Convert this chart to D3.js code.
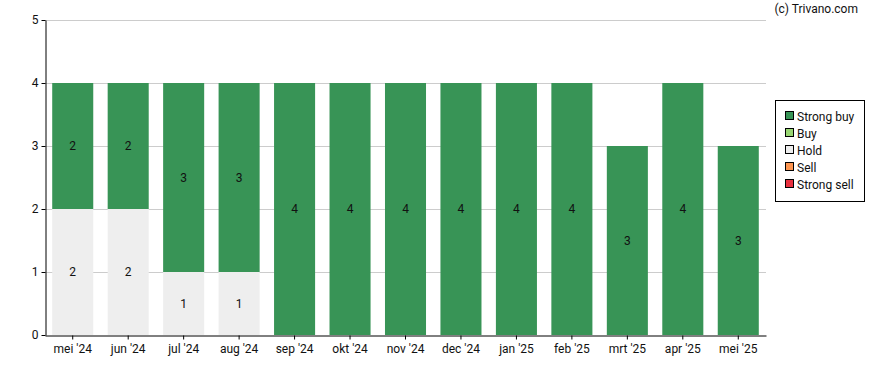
<!DOCTYPE html>
<html>
<head>
<meta charset="utf-8">
<script src="https://cdn.jsdelivr.net/npm/d3@7"></script>
<style>
body{margin:0;background:#fff;}
text{font-family:Roboto,"Liberation Sans",sans-serif;}
</style>
</head>
<body>
<script>
var months=["mei '24","jun '24","jul '24","aug '24","sep '24","okt '24","nov '24","dec '24","jan '25","feb '25","mrt '25","apr '25","mei '25"];
var strongBuy=[2,2,3,3,4,4,4,4,4,4,3,4,3];
var buy=[0,0,0,0,0,0,0,0,0,0,0,0,0];
var hold=[2,2,1,1,0,0,0,0,0,0,0,0,0];
var sell=[0,0,0,0,0,0,0,0,0,0,0,0,0];
var strongSell=[0,0,0,0,0,0,0,0,0,0,0,0,0];
var seriesNames=["Strong buy","Buy","Hold","Sell","Strong sell"];
var seriesColors=["#389456","#99d773","#eeeeee","#fd9550","#e8303e"];
var yTicks=[0,1,2,3,4,5];

var width=888,height=370;
var svg=d3.select("body").append("svg").attr("width",width).attr("height",height);

var x=d3.scaleBand().domain(months).range([45,766]).paddingInner(0.26).paddingOuter(0.13);
var y=d3.scaleLinear().domain([0,5]).range([335,20]);

// gridlines
svg.append("g").selectAll("line").data(yTicks.filter(function(d){return d>0;})).enter().append("line")
	.attr("x1",45).attr("x2",766).attr("y1",function(d){return y(d)+0.5;}).attr("y2",function(d){return y(d)+0.5;})
	.attr("stroke","#cccccc").attr("stroke-width",1);

// stack: bottom first
var rows=months.map(function(m,i){
	return {month:m,"Strong sell":strongSell[i],"Sell":sell[i],"Hold":hold[i],"Buy":buy[i],"Strong buy":strongBuy[i]};
});
var order=["Strong sell","Sell","Hold","Buy","Strong buy"];
var stacked=d3.stack().keys(order)(rows);
var color=d3.scaleOrdinal().domain(seriesNames).range(seriesColors);

stacked.forEach(function(layer){
	var g=svg.append("g");
	layer.forEach(function(d){
		var v=d[1]-d[0];
		if(v<=0) return;
		g.append("rect").attr("x",x(d.data.month)).attr("width",x.bandwidth())
			.attr("y",y(d[1])).attr("height",y(d[0])-y(d[1])).attr("fill",color(layer.key));
		g.append("text").attr("x",x(d.data.month)+x.bandwidth()/2).attr("y",y((d[0]+d[1])/2)+4)
			.attr("text-anchor","middle").attr("font-size",12).attr("fill","#111").text(v);
	});
});

// axes
var xAxis=svg.append("g").attr("transform","translate(0,335.5)")
	.call(d3.axisBottom(x).tickSize(4).tickSizeOuter(0));
xAxis.selectAll("text").attr("font-size",12).attr("fill","#111").attr("dy","0.85em");
xAxis.select(".domain").attr("stroke","#000");
var yAxis=svg.append("g").attr("transform","translate(45.5,0)")
	.call(d3.axisLeft(y).tickValues(yTicks).tickFormat(d3.format("d")).tickSize(4).tickSizeOuter(0));
yAxis.selectAll("text").attr("font-size",12).attr("fill","#111");
yAxis.select(".domain").attr("stroke","#000");

// copyright
svg.append("text").attr("x",858).attr("y",13).attr("text-anchor","end").attr("font-size",12).attr("fill","#111").text("(c) Trivano.com");

// legend
var lg=svg.append("g");
lg.append("rect").attr("x",775.5).attr("y",100.5).attr("width",89).attr("height",101).attr("fill","#fff").attr("stroke","#000");
seriesNames.forEach(function(n,i){
	var yy=116+i*17;
	lg.append("rect").attr("x",785.5).attr("y",yy-4.5).attr("width",8).attr("height",8).attr("fill",seriesColors[i]).attr("stroke","#000");
	lg.append("text").attr("x",797).attr("y",yy+4.5).attr("font-size",12).attr("fill","#111").text(n);
});
</script>
</body>
</html>
